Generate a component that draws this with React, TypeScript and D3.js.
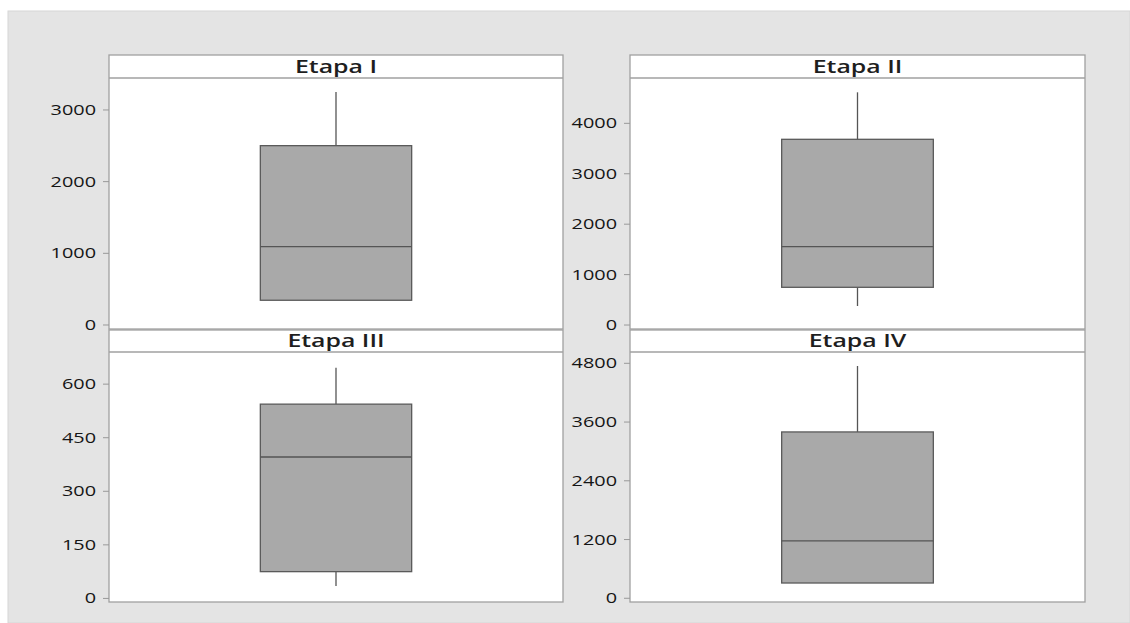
import React from "react";
import * as d3 from "d3";

const stages = ["Etapa I", "Etapa II", "Etapa III", "Etapa IV"];
const mins = [345, 377, 35, 312];
const q1s = [345, 748, 75, 312];
const medians = [1092, 1553, 396, 1171];
const q3s = [2502, 3683, 544, 3398];
const maxs = [3251, 4615, 646, 4745];
const yTicks = [
  [0, 1000, 2000, 3000],
  [0, 1000, 2000, 3000, 4000],
  [0, 150, 300, 450, 600],
  [0, 1200, 2400, 3600, 4800],
];
const yDomains = [
  [-56, 3446],
  [-79, 4899],
  [-10, 690],
  [-76, 5031],
];

const W = 1130;
const H = 623;
const cols = [
  [109, 563],
  [630, 1085],
];
const rows = [
  { top: 55, stripBottom: 78, bottom: 329 },
  { top: 330, stripBottom: 352, bottom: 602 },
];
const FONT = "'Open Sans', 'Noto Sans', sans-serif";
const SX = 1.42;

function Panel({ i }: { i: number }) {
  const [x0, x1] = cols[i % 2];
  const r = rows[Math.floor(i / 2)];
  const y = d3.scaleLinear().domain(yDomains[i]).range([r.bottom, r.stripBottom]);
  const x = d3.scaleLinear().domain([0, 3]).range([x0, x1]);
  const bx0 = x(1);
  const bx1 = x(2);
  const cx = x(1.5);
  return (
    <g>
      <rect x={x0} y={r.top} width={x1 - x0} height={r.bottom - r.top} fill="#fff" />
      <line x1={cx} x2={cx} y1={y(q3s[i])} y2={y(maxs[i])} stroke="#555" strokeWidth={1.3} />
      <line x1={cx} x2={cx} y1={y(q1s[i])} y2={y(mins[i])} stroke="#555" strokeWidth={1.3} />
      <rect
        x={bx0}
        y={y(q3s[i])}
        width={bx1 - bx0}
        height={y(q1s[i]) - y(q3s[i])}
        fill="#a9a9a9"
        stroke="#5a5a5a"
        strokeWidth={1.3}
      />
      <line x1={bx0} x2={bx1} y1={y(medians[i])} y2={y(medians[i])} stroke="#555" strokeWidth={1.3} />
      <rect x={x0} y={r.top} width={x1 - x0} height={r.bottom - r.top} fill="none" stroke="#a0a0a0" strokeWidth={1.3} />
      <line x1={x0} x2={x1} y1={r.stripBottom} y2={r.stripBottom} stroke="#a0a0a0" strokeWidth={1.3} />
      <text
        transform={`translate(${(x0 + x1) / 2},${r.stripBottom - 5}) scale(${SX},1)`}
        textAnchor="middle"
        fontFamily={FONT}
        fontSize={17.5}
        fontWeight={600}
        fill="#1e1e1e"
      >
        {stages[i]}
      </text>
      {yTicks[i].map((t) => (
        <g key={t}>
          <line x1={x0 - 6} x2={x0} y1={y(t)} y2={y(t)} stroke="#999" strokeWidth={1} />
          <text
            transform={`translate(${x0 - 13},${y(t) + 5}) scale(${SX},1)`}
            textAnchor="end"
            fontFamily={FONT}
            fontSize={14}
            fill="#151515"
          >
            {t}
          </text>
        </g>
      ))}
    </g>
  );
}

export default function App() {
  return (
    <svg
      width={W}
      height={H}
      style={{ position: "absolute", left: 0, top: 0, display: "block" }}
    >
      <rect x={0} y={0} width={W} height={H} fill="#fff" />
      <rect x={8} y={11} width={W - 8} height={H - 11} fill="#e4e4e4" stroke="#d6d6d6" />
      {stages.map((_, i) => (
        <Panel key={i} i={i} />
      ))}
    </svg>
  );
}
